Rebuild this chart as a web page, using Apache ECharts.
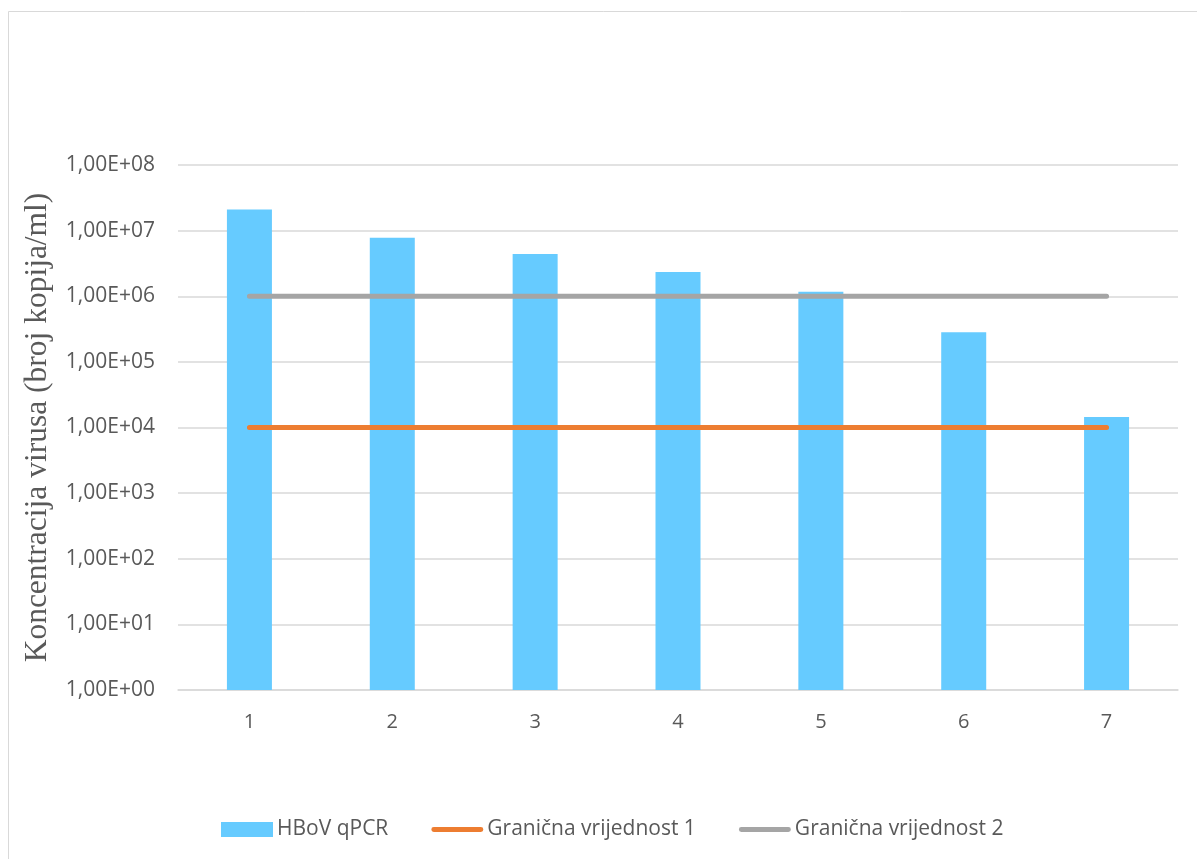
<!DOCTYPE html>
<html><head><meta charset="utf-8">
<script src="https://cdn.jsdelivr.net/npm/echarts@6/dist/echarts.min.js"></script>
<style>html,body{margin:0;padding:0;background:#fff}#c{width:1197px;height:859px}</style>
</head><body><div id="c"></div>
<script>
const categories = ['1','2','3','4','5','6','7'];
const hbovValues = [2.1e7, 7.8e6, 4.4e6, 2.35e6, 1.17e6, 2.82e5, 1.45e4];
const limit1Values = [1e4, 1e4, 1e4, 1e4, 1e4, 1e4, 1e4];
const limit2Values = [1e6, 1e6, 1e6, 1e6, 1e6, 1e6, 1e6];
const seriesNames = ['HBoV qPCR', 'Granična vrijednost 1', 'Granična vrijednost 2'];
const yTitle = 'Koncentracija virusa (broj kopija/ml)';

function fmt(v){
  const e = Math.round(Math.log10(v));
  return '1,00E+' + (e < 10 ? '0' + e : e);
}
const chart = echarts.init(document.getElementById('c'));
const font = 'Open Sans';
const lineIcon = 'path://M3,5 L51,5 A2.5,2.5 0 0 1 51,10 L3,10 A2.5,2.5 0 0 1 3,5 Z';
chart.setOption({
  animation: false,
  backgroundColor: '#fff',
  graphic: [{type:'rect', shape:{x:8.5,y:11.5,width:1200,height:860}, style:{fill:'none', stroke:'#d9d9d9', lineWidth:1}, silent:true}],
  grid: {left:178, right:19, top:165, bottom:169},
  legend: {
    top: 814, left: 216,
    itemWidth: 52, itemHeight: 15, itemGap: 43,
    textStyle: {color:'#595959', fontSize:21, fontFamily:font, padding:[0,0,0,-1]},
    data: [
      {name: seriesNames[0], icon:'rect'},
      {name: seriesNames[1], icon: lineIcon, itemStyle:{color:'#ED7D31'}},
      {name: seriesNames[2], icon: lineIcon, itemStyle:{color:'#A5A5A5'}}
    ]
  },
  xAxis: {
    type:'category', data: categories,
    axisLine:{lineStyle:{color:'#d9d9d9', width:1.5}},
    axisTick:{show:false},
    axisLabel:{color:'#595959', fontSize:20, fontFamily:font, margin:22}
  },
  yAxis: {
    type:'log', logBase:10, min:1, max:1e8,
    name: yTitle, nameLocation:'middle', nameGap:124, nameRotate:90,
    nameTextStyle:{color:'#595959', fontSize:31.5, fontFamily:'Liberation Serif'},
    axisLine:{show:false}, axisTick:{show:false},
    axisLabel:{color:'#595959', fontSize:21, fontFamily:font, margin:23, formatter: fmt},
    splitLine:{lineStyle:{color:'#d9d9d9', width:1.5}}
  },
  series: [
    {name: seriesNames[0], type:'bar', data: hbovValues, barWidth:'31.5%', itemStyle:{color:'#66CBFF'}},
    {name: seriesNames[1], type:'line', data: limit1Values, showSymbol:false, symbol:'none', lineStyle:{color:'#ED7D31', width:5, cap:'round'}, itemStyle:{color:'#ED7D31'}},
    {name: seriesNames[2], type:'line', data: limit2Values, showSymbol:false, symbol:'none', lineStyle:{color:'#A5A5A5', width:5, cap:'round'}, itemStyle:{color:'#A5A5A5'}}
  ]
});
</script></body></html>
